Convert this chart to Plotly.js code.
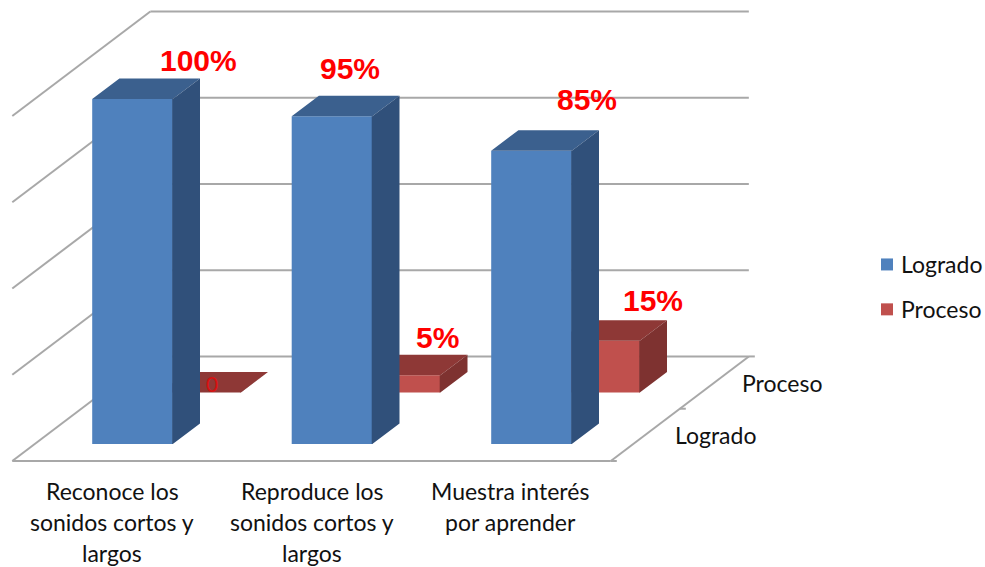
<!DOCTYPE html>
<html>
<head>
<meta charset="utf-8">
<script src="https://cdn.plot.ly/plotly-3.0.1.min.js"></script>
<style>html,body{margin:0;padding:0;background:#fff}#c{width:985px;height:567px}</style>
</head>
<body>
<div id="c"></div>
<script>
// ---- data ----
const categories = [
  ["Reconoce los", "sonidos cortos y", "largos"],
  ["Reproduce los", "sonidos cortos y", "largos"],
  ["Muestra interés", "por aprender"]
];
const seriesNames = ["Logrado", "Proceso"];
const logrado = [100, 95, 85];
const proceso = [0, 5, 15];
const logradoLabels = ["100%", "95%", "85%"];
const procesoLabels = ["0", "5%", "15%"];
const gridValues = [0, 25, 50, 75, 100];

// ---- oblique projection helpers ----
const W = 985, H = 567;
const pxPerCat = 199.5, x0 = 132.5, pxPerVal = 3.45, y0 = 444;
const depthDX = 68 / pxPerCat, depthDY = 51.5 / pxPerVal;
const barW = 0.404, barD = 0.4;
const seamU = 0.003; // side faces overlap the front bar slightly so no hairline shows
const floorFront = -0.33, floorBack = 1.7, floorL = -0.49, floorR = 2.51;
const xRange = [-x0 / pxPerCat, (W - x0) / pxPerCat];
const yRange = [(y0 - H) / pxPerVal, y0 / pxPerVal];
const P = (u, v, d) => [u + d * depthDX, v + d * depthDY];

function poly(points) {
  const xs = [], ys = [];
  points.forEach(p => { xs.push(p[0]); ys.push(p[1]); });
  xs.push(points[0][0]); ys.push(points[0][1]);
  return [xs, ys];
}
function facesTrace(values, d, face, color, xa, ya) {
  let X = [], Y = [];
  values.forEach((v, i) => {
    const l = i - barW / 2, r = i + barW / 2;
    const pts = face === "top"
      ? [P(l, v, d), P(r, v, d), P(r, v, d + barD), P(l, v, d + barD)]
      : [P(r - seamU, 0, d), P(r - seamU, v, d), P(r, v, d), P(r, v, d + barD), P(r, 0, d + barD), P(r, 0, d)];
    const [xs, ys] = poly(pts);
    X = X.concat(xs, [null]); Y = Y.concat(ys, [null]);
  });
  return {type: "scatter", mode: "lines", x: X, y: Y, fill: "toself", fillcolor: color,
    line: {width: 0, color: color}, showlegend: false, hoverinfo: "skip", xaxis: xa, yaxis: ya};
}
function barTrace(name, values, d, color, xa, ya) {
  const o = P(0, 0, d);
  return {type: "bar", name: name, legendgroup: name,
    x: values.map((v, i) => i + o[0]), y: values, base: values.map(() => o[1]), width: barW,
    marker: {color: color, line: {width: 0}}, xaxis: xa, yaxis: ya, hoverinfo: "skip"};
}

const traces = [
  barTrace(seriesNames[0], logrado, 0, "#4f81bd", "x2", "y2"),
  facesTrace(logrado, 0, "top", "#3b608e", "x2", "y2"),
  facesTrace(logrado, 0, "side", "#30507a", "x2", "y2"),
  barTrace(seriesNames[1], proceso, 1, "#c0504d", "x", "y"),
  facesTrace(proceso, 1, "top", "#8e3836", "x", "y"),
  facesTrace(proceso, 1, "side", "#7e3230", "x", "y")
];

// ---- walls / floor as shapes under the bars ----
const gridStyle = {color: "#a8a8a8", width: 2};
function seg(a, b) {
  return {type: "line", layer: "below", xref: "x", yref: "y",
    x0: a[0], y0: a[1], x1: b[0], y1: b[1], line: gridStyle};
}
const shapes = [];
gridValues.forEach(v => {
  shapes.push(seg(P(floorL, v, floorBack), P(floorR, v, floorBack)));
  shapes.push(seg(P(floorL, v, floorBack), P(floorL, v, floorFront)));
});
shapes.push(seg(P(floorL, 0, floorFront), P(floorR, 0, floorFront)));
shapes.push(seg(P(floorR, 0, floorFront), P(floorR, 0, floorBack)));
// depth-axis tick marks
[floorFront, (floorFront + floorBack) / 2, floorBack].forEach(d => {
  const a = P(floorR, 0, d);
  shapes.push(seg(a, [a[0] + 0.03, a[1]]));
});

// ---- text ----
const red = "#ff0000";
const sans = "Lato, 'Open Sans', sans-serif";
const arial = "'Liberation Sans', Arial, sans-serif";
const ann = [];
const at = (px, py, text, font) => ann.push({xref: "paper", yref: "paper", x: px / W, y: 1 - py / H,
  text: text, showarrow: false, xanchor: "center", yanchor: "middle", font: font});
const bigFont = {family: arial, size: 30, color: red};
const logradoPos = [[198, 61], [350, 68], [587, 99]];
const procesoPos = [[212, 383], [437, 337], [653, 300]];
logradoLabels.forEach((t, i) => at(logradoPos[i][0], logradoPos[i][1], "<b>" + t + "</b>", bigFont));
procesoLabels.forEach((t, i) => {
  if (t === "0") at(procesoPos[i][0], procesoPos[i][1], t, {family: sans, size: 21, color: "#d81010"});
  else at(procesoPos[i][0], procesoPos[i][1], "<b>" + t + "</b>", bigFont);
});
const catFont = {family: sans, size: 23, color: "#111111"};
const lineY = [491, 522, 553];
const catX = [112, 312, 510];
categories.forEach((lines, i) => lines.forEach((t, j) => at(catX[i], lineY[j], t, catFont)));
at(782, 383, seriesNames[1], catFont);
at(715, 435, seriesNames[0], catFont);

const hidden = {visible: false, fixedrange: true};
const layout = {
  width: W, height: H, margin: {l: 0, r: 0, t: 0, b: 0, autoexpand: false},
  paper_bgcolor: "#ffffff", plot_bgcolor: "#ffffff",
  barmode: "overlay",
  xaxis: Object.assign({range: xRange}, hidden),
  yaxis: Object.assign({range: yRange}, hidden),
  xaxis2: Object.assign({range: xRange, overlaying: "x"}, hidden),
  yaxis2: Object.assign({range: yRange, overlaying: "y"}, hidden),
  shapes: shapes, annotations: ann,
  showlegend: true,
  legend: {x: 861 / W, y: 1 - 243 / H, xanchor: "left", yanchor: "top",
    font: {family: sans, size: 23, color: "#111111"},
    tracegroupgap: 12, bgcolor: "rgba(0,0,0,0)", traceorder: "grouped"}
};
Plotly.newPlot("c", traces, layout, {displayModeBar: false, staticPlot: true}).then(() => {
  // nudge the legend swatches closer to their text, as in the reference
  document.querySelectorAll(".legend .legendsymbols").forEach(g => g.setAttribute("transform", "translate(6,0)"));
});
</script>
</body>
</html>
